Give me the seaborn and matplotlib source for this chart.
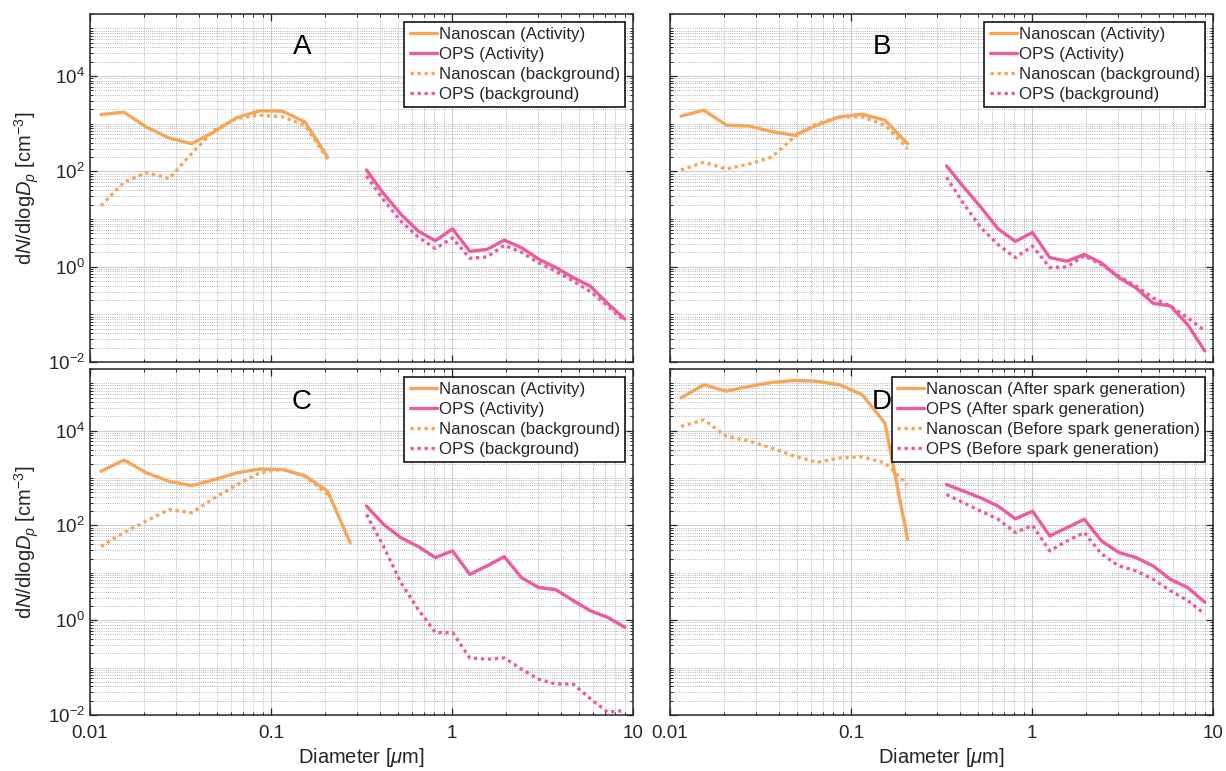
import numpy as np
import matplotlib
matplotlib.use("Agg")
import matplotlib.pyplot as plt
from matplotlib.ticker import LogLocator, NullFormatter, LogFormatterSciNotation
import seaborn as sns

# bin mid diameters [um]
nano_d = [0.0115, 0.0154, 0.0205, 0.0274, 0.0365, 0.0487, 0.0649, 0.0866, 0.1155, 0.154, 0.2054]
nano_d_long = nano_d + [0.2738]
ops_d = [0.337, 0.419, 0.522, 0.650, 0.809, 1.007, 1.254, 1.562, 1.944, 2.421,
         3.014, 3.752, 4.672, 5.816, 7.241, 9.016]

# panel A
a_nano_act = [1550, 1740, 850, 500, 380, 680, 1350, 1860, 1830, 1090, 200]
a_nano_bg = [19, 59, 95, 70, 240, 730, 1290, 1510, 1390, 930, 180]
a_ops_act = [107, 34, 12.6, 5.6, 3.5, 6.2, 2.1, 2.3, 3.6, 2.5, 1.44, 0.96, 0.59, 0.39, 0.17, 0.08]
a_ops_bg = [80, 25, 9, 4.2, 2.4, 4.0, 1.5, 1.6, 2.8, 2.0, 1.2, 0.8, 0.5, 0.3, 0.15, 0.072]

# panel B
b_nano_act = [1440, 1920, 930, 890, 680, 570, 930, 1390, 1580, 1180, 380]
b_nano_bg = [107, 155, 112, 143, 200, 530, 1000, 1390, 1390, 930, 300]
b_ops_act = [130, 47, 17.7, 6.2, 3.4, 5.2, 1.55, 1.3, 1.8, 1.2, 0.59, 0.36, 0.17, 0.15, 0.061, 0.017]
b_ops_bg = [75, 21, 6.6, 2.9, 1.55, 2.7, 0.96, 0.99, 1.7, 1.1, 0.63, 0.39, 0.22, 0.15, 0.085, 0.045]

# panel C
c_nano_act = [1390, 2400, 1290, 850, 690, 930, 1290, 1550, 1510, 1120, 530, 43]
c_nano_bg = [36, 71, 124, 217, 185, 380, 730, 1290, 1550, 1090, 450]
c_ops_act = [257, 105, 55, 36, 21, 29, 9.3, 14, 22, 7.9, 4.9, 4.4, 2.6, 1.58, 1.15, 0.71]
c_ops_bg = [170, 36, 6.2, 1.7, 0.55, 0.55, 0.16, 0.15, 0.16, 0.093, 0.057, 0.045, 0.045, 0.022, 0.0115, 0.0124]

# panel D
d_nano_after = [49000, 93000, 68000, 86000, 104000, 115000, 110000, 93000, 57000, 14500, 51]
d_nano_before = [12300, 17000, 7600, 6000, 4300, 2900, 2150, 2650, 2800, 2100, 730]
d_ops_after = [730, 530, 380, 255, 138, 200, 60, 90, 135, 47, 27, 21, 14, 7.3, 4.9, 2.4]
d_ops_before = [450, 300, 200, 135, 71, 100, 29, 47, 71, 25, 14, 11, 7.3, 4.2, 2.6, 1.35]

labels_act = ["Nanoscan (Activity)", "OPS (Activity)", "Nanoscan (background)", "OPS (background)"]
labels_spark = ["Nanoscan (After spark generation)", "OPS (After spark generation)",
                "Nanoscan (Before spark generation)", "OPS (Before spark generation)"]

ORANGE = "#F5A65B"
PINK = "#EC5A9F"

sns.set_theme(style="ticks")
plt.rcParams["font.family"] = ["Liberation Sans", "DejaVu Sans"]
plt.rcParams["mathtext.fontset"] = "custom"
plt.rcParams["mathtext.rm"] = "Liberation Sans"
plt.rcParams["mathtext.it"] = "Liberation Sans:italic"
plt.rcParams["mathtext.bf"] = "Liberation Sans:bold"

fig = plt.figure(figsize=(12.26, 7.71), dpi=100)

W = 543 / 1226
rects = {
    "A": [90 / 1226, 1 - 362 / 771, W, 348 / 771],
    "B": [670 / 1226, 1 - 362 / 771, W, 348 / 771],
    "C": [90 / 1226, 1 - 715 / 771, W, 346 / 771],
    "D": [670 / 1226, 1 - 715 / 771, W, 346 / 771],
}

panels = {
    "A": (nano_d, a_nano_act, a_ops_act, nano_d, a_nano_bg, a_ops_bg, labels_act),
    "B": (nano_d, b_nano_act, b_ops_act, nano_d, b_nano_bg, b_ops_bg, labels_act),
    "C": (nano_d_long, c_nano_act, c_ops_act, nano_d, c_nano_bg, c_ops_bg, labels_act),
    "D": (nano_d, d_nano_after, d_ops_after, nano_d, d_nano_before, d_ops_before, labels_spark),
}

dot = (0, (1.0, 1.1))
for key, (nd1, n1, o1, nd2, n2, o2, labs) in panels.items():
    ax = fig.add_axes(rects[key])
    series = [
        (nd1, n1, ORANGE, "-", labs[0]),
        (ops_d, o1, PINK, "-", labs[1]),
        (nd2, n2, ORANGE, dot, labs[2]),
        (ops_d, o2, PINK, dot, labs[3]),
    ]
    for xs, ys, col, ls, lab in series:
        sns.lineplot(x=xs, y=ys, ax=ax, color=col, linestyle=ls, lw=2.4,
                     label=lab, estimator=None, sort=False)

    ax.set_xscale("log")
    ax.set_yscale("log")
    ax.set_xlim(0.01, 10)
    ax.set_ylim(1e-2, 2e5)

    ax.set_xticks([0.01, 0.1, 1, 10])
    ax.set_yticks([1e-2, 1, 1e2, 1e4])
    ax.xaxis.set_minor_locator(LogLocator(base=10, subs=np.arange(1, 10), numticks=100))
    ax.yaxis.set_minor_locator(LogLocator(base=10, subs=np.arange(1, 10), numticks=100))
    ax.xaxis.set_minor_formatter(NullFormatter())
    ax.yaxis.set_minor_formatter(NullFormatter())
    ax.set_xticklabels(["0.01", "0.1", "1", "10"])
    ax.yaxis.set_major_formatter(LogFormatterSciNotation())

    ax.grid(True, which="major", color="#cfcfcf", lw=0.8, ls="-")
    ax.grid(True, which="minor", color="#9e9e9e", lw=0.6, ls=":")
    ax.set_axisbelow(True)

    ax.tick_params(which="both", direction="in", top=True, right=True,
                   labelsize=13.5, colors="#262626")
    ax.tick_params(which="major", length=5, width=0.9)
    ax.tick_params(which="minor", length=2.5, width=0.7)
    ax.tick_params(axis="x", which="major", pad=7)
    for sp in ax.spines.values():
        sp.set_color("#262626")
        sp.set_linewidth(1.1)

    if key in ("A", "B"):
        ax.tick_params(labelbottom=False)
        ax.set_xlabel("")
    else:
        ax.set_xlabel(r"Diameter [$\mu$m]", fontsize=14.5, color="#262626", labelpad=3)
    if key in ("B", "D"):
        ax.tick_params(labelleft=False)
        ax.set_ylabel("")
    else:
        ax.set_ylabel(r"d$N$/dlog$D_p$ [cm$^{-3}$]", fontsize=14.5, color="#262626", labelpad=5)

    ax.text(0.39, 0.905, key, transform=ax.transAxes, fontsize=20,
            ha="center", va="center", color="black", zorder=1)

    leg = ax.legend(loc="upper right", fontsize=12.2, frameon=True, fancybox=False,
                    framealpha=1, edgecolor="black", handlelength=1.6,
                    handletextpad=0.15, labelspacing=0.3, borderpad=0.3,
                    borderaxespad=0.45)
    leg.get_frame().set_linewidth(1.1)

fig.savefig("out.png", dpi=100)
